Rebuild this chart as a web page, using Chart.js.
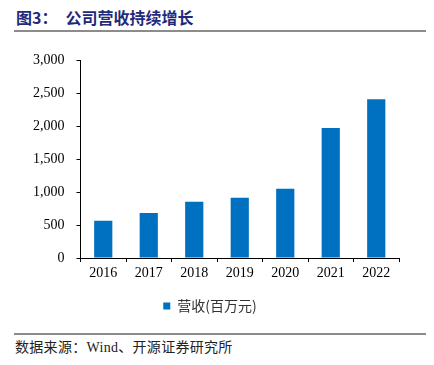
<!DOCTYPE html>
<html>
<head>
<meta charset="utf-8">
<script src="https://cdn.jsdelivr.net/npm/chart.js@4"></script>
<style>
  body { margin: 0; background: #fff; width: 434px; height: 365px; position: relative; overflow: hidden; }
  .title { position: absolute; left: 16px; top: 5px; font: bold 16px "Noto Sans CJK SC", sans-serif; color: #1f2a7a; white-space: pre; }
  .rule { position: absolute; left: 14px; width: 412px; height: 2px; background: #8c8c8c; }
  .source { position: absolute; left: 15px; top: 336px; font: 14px "Noto Sans CJK SC", "Liberation Serif", serif; color: #222; letter-spacing: 0.3px; }
  .box { position: absolute; left: 0; top: 40px; width: 434px; height: 287px; }
</style>
</head>
<body>
<div class="title">图3：　公司营收持续增长</div>
<div class="rule" style="top:30px"></div>
<div class="box"><canvas id="revChart"></canvas></div>
<div class="rule" style="top:333px"></div>
<div class="source">数据来源：<span style="font-family:'Liberation Serif',serif">Wind</span>、开源证券研究所</div>
<script>
// 营收数据
const years = ['2016', '2017', '2018', '2019', '2020', '2021', '2022'];
const revenue = [565, 685, 855, 915, 1050, 1975, 2410];
const seriesName = '营收(百万元)';

document.addEventListener('DOMContentLoaded', function() {
    const ctx = document.getElementById('revChart').getContext('2d');
    new Chart(ctx, {
        type: 'bar',
        data: {
            labels: years,
            datasets: [{
                label: seriesName,
                data: revenue,
                backgroundColor: '#0070c0',
                borderWidth: 0,
                categoryPercentage: 0.4,
                barPercentage: 1
            }]
        },
        options: {
            responsive: true,
            maintainAspectRatio: false,
            animation: false,
            layout: { padding: { left: 21, right: 35, top: 3, bottom: 4 } },
            plugins: {
                legend: {
                    position: 'bottom',
                    title: {
                        display: true,
                        text: ' ',
                        font: { size: 1 },
                        padding: { top: 0, bottom: 7 }
                    },
                    labels: {
                        boxWidth: 7,
                        boxHeight: 7,
                        padding: 6,
                        color: '#333',
                        font: { family: '"Noto Sans CJK SC", sans-serif', size: 14 }
                    }
                },
                tooltip: { enabled: false }
            },
            scales: {
                x: {
                    grid: { drawOnChartArea: false, tickLength: 4, color: '#000', offset: true },
                    border: { color: '#000', width: 1 },
                    ticks: { color: '#000', padding: 3, font: { family: '"Liberation Serif", serif', size: 14 } }
                },
                y: {
                    min: 0,
                    max: 3000,
                    grid: { drawOnChartArea: false, tickLength: 4, color: '#000' },
                    border: { color: '#000', width: 1 },
                    ticks: {
                        stepSize: 500,
                        color: '#000',
                        padding: 12,
                        font: { family: '"Liberation Serif", serif', size: 14 },
                        callback: function(value) {
                            return value.toLocaleString('en-US');
                        }
                    }
                }
            }
        }
    });
});
</script>
</body>
</html>
